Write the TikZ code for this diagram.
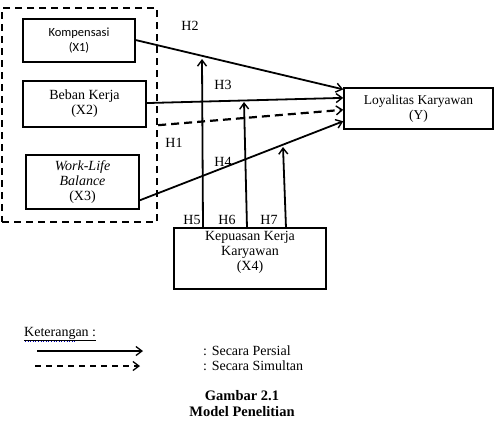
\documentclass[tikz,border=0pt]{standalone}
\usepackage{fontspec}
\setmainfont{Liberation Serif}
\newfontfamily\kfont{Carlito}
\usetikzlibrary{arrows.meta,calc}
\begin{document}
\begin{tikzpicture}[x=1pt,y=-1pt,
  box/.style={draw,line width=1.5pt,align=center,inner sep=0pt,font=\fontsize{14}{15}\selectfont},
  conn/.style={line width=1.8pt,-{Straight Barb[length=6pt,width=9pt,line width=1.4pt]}},
  dconn/.style={line width=2.2pt,dash pattern=on 8pt off 5pt,-{Straight Barb[length=6pt,width=9pt,line width=1.4pt]}},
  grpbox/.style={draw,line width=2.4pt,dash pattern=on 7pt off 5pt,inner sep=0pt},
  lab/.style={font=\fontsize{14}{15}\selectfont,inner sep=0pt}]
\useasboundingbox (0,0) rectangle (500,442);
% group dashed box
\node[grpbox,minimum width=155,minimum height=214] (grp) at (79.5,115) {};
% boxes
\node[box,minimum width=112,minimum height=43] (x1) at (79,40.5)
  {\raisebox{3pt}{\parbox{110pt}{\centering\kfont\fontsize{12.5}{15}\selectfont Kompensasi\\(X1)}}};
\node[box,minimum width=123,minimum height=46] (x2) at (84.5,104)
  {\raisebox{3pt}{\parbox{120pt}{\centering Beban Kerja\\(X2)}}};
\node[box,minimum width=113,minimum height=54] (x3) at (82.5,182)
  {\parbox{110pt}{\centering\itshape Work-Life\\Balance\\\upshape(X3)}};
\node[box,minimum width=149,minimum height=41] (y) at (418.5,108.5)
  {\raisebox{1pt}{\parbox{145pt}{\centering\fontsize{13.5}{15}\selectfont Loyalitas Karyawan\\(Y)}}};
\node[box,minimum width=152,minimum height=61] (x4) at (250,258.5)
  {\parbox[c][55pt][t]{148pt}{\centering Kepuasan Kerja\\Karyawan\\(X4)}};
% connectors to Y
\coordinate (y1) at ($(y.north west)!0.05!(y.south west)$);
\coordinate (y2) at ($(y.north west)!0.25!(y.south west)$);
\coordinate (y3) at ($(y.north west)!0.53!(y.south west)$);
\coordinate (y4) at ($(y.north west)!0.80!(y.south west)$);
\coordinate (x1e) at ($(x1.north east)!0.49!(x1.south east)$);
\coordinate (x2e) at ($(x2.north east)!0.48!(x2.south east)$);
\coordinate (x3e) at ($(x3.north east)!0.83!(x3.south east)$);
\coordinate (grpe) at ($(grp.north east)!0.547!(grp.south east)$);
\draw[conn] (x1e) -- (y1);
\draw[conn] (x2e) -- (y2);
\draw[dconn] (grpe) -- (y3);
\draw[conn] (x3e) -- (y4);
% moderation arrows
\coordinate (h5b) at (203,228);
\coordinate (h5t) at (202,59);
\coordinate (h6b) at (247,228);
\coordinate (h6t) at (244,102);
\coordinate (h7b) at (286,228);
\coordinate (h7t) at (283,147);
\draw[conn] (h5b) -- (h5t);
\draw[conn] (h6b) -- (h6t);
\draw[conn] (h7b) -- (h7t);
% labels
\node[lab] (lh2) at (190,26) {H2};
\node[lab] (lh3) at (223,85) {H3};
\node[lab] (lh1) at (174,143) {H1};
\node[lab] (lh4) at (223,162) {H4};
\node[lab] (lh5) at (192,220) {H5};
\node[lab] (lh6) at (227,220) {H6};
\node[lab] (lh7) at (269,220) {H7};
% legend
\node[lab,anchor=west] (ket) at (24,334) {\underline{Keterangan :}};
\draw[blue!70!black,line width=0.6pt,dotted] (25,341) -- (75,341);
\coordinate (l1a) at (37,351);
\coordinate (l1b) at (143,351);
\coordinate (l2a) at (35,366);
\coordinate (l2b) at (140,366);
\draw[line width=1.5pt,-{Straight Barb[length=6pt,width=9pt,line width=1.3pt]}] (l1a) -- (l1b);
\draw[line width=1.5pt,dash pattern=on 6pt off 5pt,-{Straight Barb[length=6pt,width=9pt,line width=1.3pt]}] (l2a) -- (l2b);
\node[lab,anchor=west] (sp) at (203,351) {: Secara Persial};
\node[lab,anchor=west] (ss) at (203,366) {: Secara Simultan};
\node[lab,font=\bfseries\fontsize{14.5}{15}\selectfont] (g1) at (242,396) {Gambar 2.1};
\node[lab,font=\bfseries\fontsize{14.5}{15}\selectfont] (g2) at (242,412) {Model Penelitian};
\end{tikzpicture}
\end{document}
